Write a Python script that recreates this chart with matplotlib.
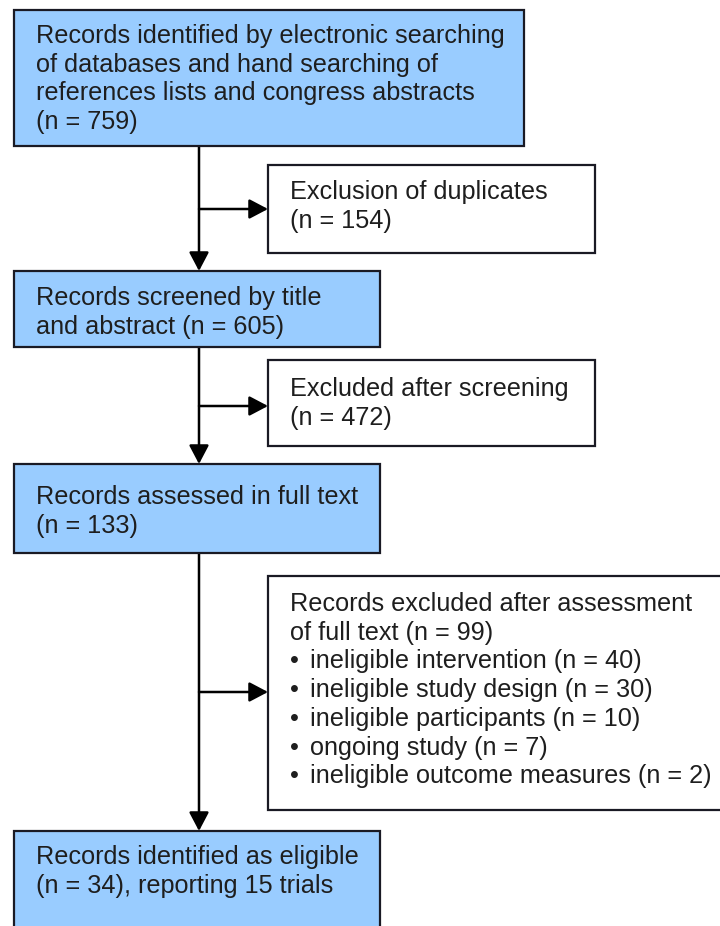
import matplotlib
matplotlib.use("Agg")
import matplotlib.pyplot as plt
from matplotlib.patches import Rectangle, FancyArrowPatch

plt.rcParams['font.family'] = ['Liberation Sans', 'DejaVu Sans']

# ---- data ----
n_identified = 759
n_duplicates = 154
n_screened = 605
n_excluded_screen = 472
n_fulltext = 133
n_excluded_full = 99
excl_reasons = ["ineligible intervention", "ineligible study design",
                "ineligible participants", "ongoing study",
                "ineligible outcome measures"]
excl_counts = [40, 30, 10, 7, 2]
n_eligible = 34
n_trials = 15

W, H = 720, 926
fig = plt.figure(figsize=(W / 100, H / 100), dpi=100)
ax = fig.add_axes([0, 0, 1, 1])
ax.set_xlim(0, W)
ax.set_ylim(H, 0)
ax.axis('off')

BLUE = '#99ccff'
EDGE = '#1a1a24'
TXT = '#1e1e1e'
FS = 18.2
LS = 28.7


def box(x0, y0, x1, y1, fill):
    ax.add_patch(Rectangle((x0, y0), x1 - x0, y1 - y0, facecolor=fill,
                           edgecolor=EDGE, linewidth=1.6, zorder=2))


def lines(x, y_first, texts, step=LS):
    for i, t in enumerate(texts):
        ax.text(x, y_first + i * step, t, fontsize=FS, color=TXT,
                va='center', ha='left', zorder=3)


def arrow(p0, p1):
    ax.add_patch(FancyArrowPatch(p0, p1, arrowstyle='-|>,head_length=0.95,head_width=0.5',
                                 mutation_scale=12, color='black', linewidth=1.8,
                                 shrinkA=0, shrinkB=0, zorder=1))


# boxes
box(14, 10, 524, 146, BLUE)
lines(36, 36, ["Records identified by electronic searching",
               "of databases and hand searching of",
               "references lists and congress abstracts",
               f"(n = {n_identified})"])

box(268, 165, 595, 253, 'white')
lines(290, 192, ["Exclusion of duplicates", f"(n = {n_duplicates})"])

box(14, 271, 380, 347, BLUE)
lines(36, 298, ["Records screened by title", f"and abstract (n = {n_screened})"])

box(268, 360, 595, 446, 'white')
lines(290, 389, ["Excluded after screening", f"(n = {n_excluded_screen})"])

box(14, 464, 380, 553, BLUE)
lines(36, 497, ["Records assessed in full text", f"(n = {n_fulltext})"])

box(268, 576, 740, 810, 'white')
lines(290, 604, ["Records excluded after assessment",
                 f"of full text (n = {n_excluded_full})"])
for i, (r, c) in enumerate(zip(excl_reasons, excl_counts)):
    y = 604 + (i + 2) * LS
    ax.text(290, y, "•", fontsize=FS, color=TXT, va='center', ha='left', zorder=3)
    ax.text(310, y, f"{r} (n = {c})", fontsize=FS, color=TXT,
            va='center', ha='left', zorder=3)

box(14, 831, 380, 940, BLUE)
lines(36, 857, ["Records identified as eligible",
                f"(n = {n_eligible}), reporting {n_trials} trials"])

# connectors
X = 199
arrow((X, 146), (X, 271))
arrow((X, 209), (268, 209))
arrow((X, 347), (X, 464))
arrow((X, 406), (268, 406))
arrow((X, 553), (X, 831))
arrow((X, 692), (268, 692))

fig.savefig('out.png', dpi=100)
